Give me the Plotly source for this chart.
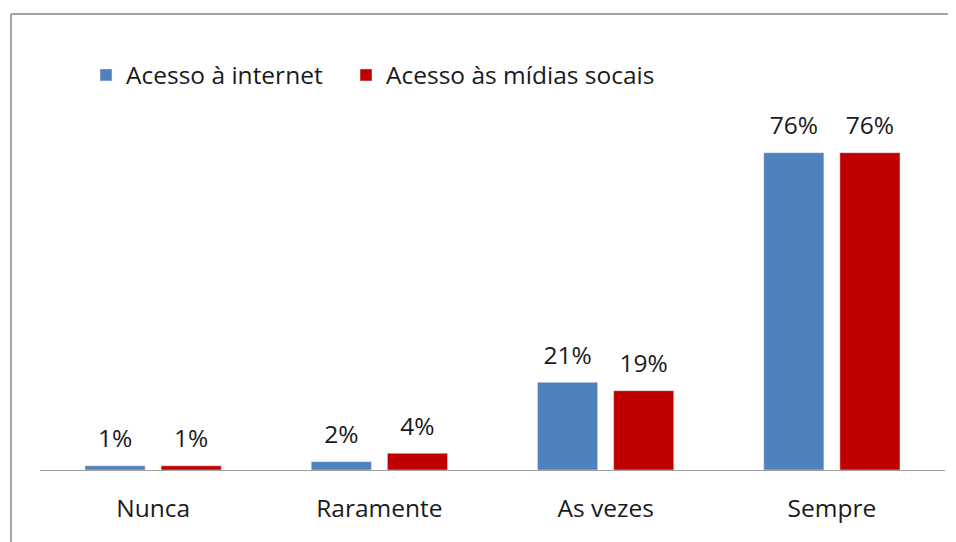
import plotly.graph_objects as go

categories = ["Nunca", "Raramente", "As vezes", "Sempre"]
internet = [1, 2, 21, 76]
midias = [1, 4, 19, 76]
series_names = ["Acesso à internet", "Acesso às mídias socais"]
colors = ["#4f81bd", "#c00000"]

FONT = "Open Sans"
FS = 24.5
TXT = "#1a1a1a"
BARGAP = 0.327

fig = go.Figure()
legends = ["legend", "legend2"]
for i, (vals, name) in enumerate([(internet, series_names[0]), (midias, series_names[1])]):
    fig.add_trace(go.Bar(x=categories, y=vals, name=name, marker_color=colors[i],
                         offsetgroup=str(i), legend=legends[i]))
for i, vals in enumerate([internet, midias]):
    fig.add_trace(go.Scatter(x=categories, y=vals, mode="markers+text",
                             text=[f"{v}%" for v in vals], textposition="top center",
                             marker=dict(size=18, color="rgba(0,0,0,0)"),
                             textfont=dict(size=FS, color=TXT, family=FONT),
                             offsetgroup=str(i), showlegend=False, hoverinfo="skip",
                             cliponaxis=False))

W, H = 956, 542
OFF = 8  # browser body margin
L, T = 40 - OFF, 136 - OFF
B = H - (470 - OFF)
R = W - (945 - OFF)
pw, ph = W - L - R, H - T - B

def px_x(x):
    return (x - OFF - L) / pw

def px_y(y):
    return (H - B - (y - OFF)) / ph

leg_common = dict(orientation="h", xanchor="left", yanchor="middle",
                  font=dict(size=FS, family=FONT, color=TXT), itemwidth=30,
                  bgcolor="rgba(0,0,0,0)")

fig.update_layout(
    width=W, height=H,
    margin=dict(l=L, r=R, t=T, b=B),
    paper_bgcolor="white", plot_bgcolor="white",
    barmode="group", bargap=BARGAP, bargroupgap=0.21,
    scattermode="group", scattergap=BARGAP,
    font=dict(family=FONT, size=FS, color=TXT),
    showlegend=True,
    legend=dict(x=px_x(86), y=px_y(75), **leg_common),
    legend2=dict(x=px_x(346), y=px_y(75), **leg_common),
    xaxis=dict(showline=True, linecolor="#a0a0a0", linewidth=1, ticks="",
               showgrid=False, ticklabelstandoff=17,
               tickfont=dict(size=FS, family=FONT, color=TXT)),
    yaxis=dict(range=[0, 80], visible=False, showgrid=False, zeroline=False),
    shapes=[
        dict(type="line", xref="paper", yref="paper",
             x0=px_x(11), x1=px_x(W + 20), y0=px_y(14), y1=px_y(14),
             line=dict(color="#a6a6a6", width=2)),
        dict(type="line", xref="paper", yref="paper",
             x0=px_x(11), x1=px_x(11), y0=px_y(14), y1=px_y(H + 20),
             line=dict(color="#a6a6a6", width=2)),
    ],
)

fig.write_html("out.html")
